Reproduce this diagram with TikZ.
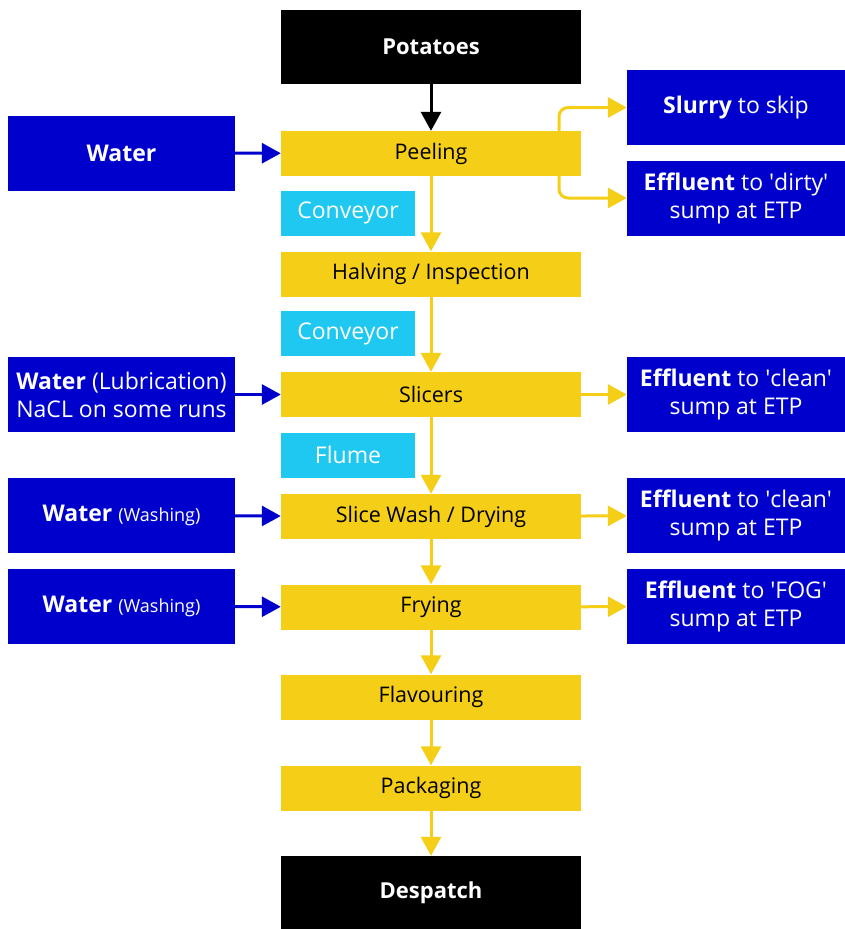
\documentclass[tikz,border=0pt]{standalone}
\usepackage{fontspec}
\setmainfont{Open Sans}
\usetikzlibrary{arrows.meta,backgrounds}
\definecolor{pblue}{RGB}{0,0,205}
\definecolor{pyellow}{RGB}{245,206,24}
\definecolor{pcyan}{RGB}{30,200,240}
\newcommand{\sq}{\textquotesingle}
\newcommand{\smalltxt}[1]{{\fontsize{18}{28}\selectfont #1}}
\begin{document}
\begin{tikzpicture}[x=1pt,y=-1pt,
  base/.style={inner sep=0pt, align=center},
  proc/.style={base, fill=pyellow, text=black, minimum width=300pt, minimum height=45pt, font=\fontsize{21.5}{28}\selectfont},
  term/.style={base, fill=black, text=white, minimum width=300pt, minimum height=74pt, font=\fontsize{22}{28}\selectfont\bfseries},
  inbox/.style={base, fill=pblue, text=white, minimum width=227pt, minimum height=75pt, font=\fontsize{23}{28}\selectfont},
  outbox/.style={base, fill=pblue, text=white, minimum width=218pt, minimum height=75pt, font=\fontsize{23}{28}\selectfont},
  tagbox/.style={base, fill=pcyan, text=white, minimum width=134pt, minimum height=45pt, font=\fontsize{23}{28}\selectfont},
  yarr/.style={draw=pyellow, line width=3pt, -{Triangle[length=19pt,width=20pt]}},
  barr/.style={draw=pblue, line width=3pt, -{Triangle[length=19pt,width=20pt]}},
  karr/.style={draw=black, line width=3pt, -{Triangle[length=19pt,width=20pt]}}
]
\useasboundingbox (0,0) rectangle (845,929);

\node[term] (pot) at (431,47) {Potatoes};
\node[proc] (peel) at (431,153.5) {Peeling};
\node[proc] (halv) at (431,274) {Halving / Inspection};
\node[proc] (slic) at (431,394.5) {Slicers};
\node[proc] (wash) at (431,516.5) {Slice Wash / Drying};
\node[proc] (fry) at (431,607) {Frying};
\node[proc] (flav) at (431,697) {Flavouring};
\node[proc] (pack) at (431,788) {Packaging};
\node[term, minimum height=73pt] (desp) at (431,892.5) {Despatch};

\node[tagbox] (conv1) at (348,213) {Conveyor};
\node[tagbox] (conv2) at (348,333.5) {Conveyor};
\node[tagbox] (flume) at (348,455) {Flume};

\node[inbox] (w1) at (121.5,153) {\textbf{Water}};
\node[inbox] (w2) at (121.5,394.5) {\textbf{Water} (Lubrication)\\NaCL on some runs};
\node[inbox] (w3) at (121.5,515.5) {\textbf{Water} \smalltxt{(Washing)}};
\node[inbox] (w4) at (121.5,606.5) {\textbf{Water} \smalltxt{(Washing)}};

\node[outbox] (slurry) at (736,107.5) {\textbf{Slurry} to skip};
\node[outbox] (dirty) at (736,198) {\textbf{Effluent} to \sq dirty\sq\\sump at ETP};
\node[outbox] (clean1) at (736,394.5) {\textbf{Effluent} to \sq clean\sq\\sump at ETP};
\node[outbox] (clean2) at (736,515.5) {\textbf{Effluent} to \sq clean\sq\\sump at ETP};
\node[outbox] (fog) at (736,606.5) {\textbf{Effluent} to \sq FOG\sq\\sump at ETP};

\coordinate (split) at (559,153.5);
\begin{scope}[on background layer]
\draw[yarr, rounded corners=9pt] (split) |- (slurry.west);
\draw[yarr, rounded corners=9pt] (split) |- (dirty.west);
\end{scope}

\draw[karr] (pot) -- (peel);
\draw[yarr] (peel) -- (halv);
\draw[yarr] (halv) -- (slic);
\draw[yarr] (slic) -- (wash);
\draw[yarr] (wash) -- (fry);
\draw[yarr] (fry) -- (flav);
\draw[yarr] (flav) -- (pack);
\draw[yarr] (pack) -- (desp);

\draw[barr] (w1) -- (peel);
\draw[barr] (w2) -- (slic);
\draw[barr] (w3) -- (wash);
\draw[barr] (w4) -- (fry);

\draw[yarr] (slic) -- (clean1);
\draw[yarr] (wash) -- (clean2);
\draw[yarr] (fry) -- (fog);
\end{tikzpicture}
\end{document}
